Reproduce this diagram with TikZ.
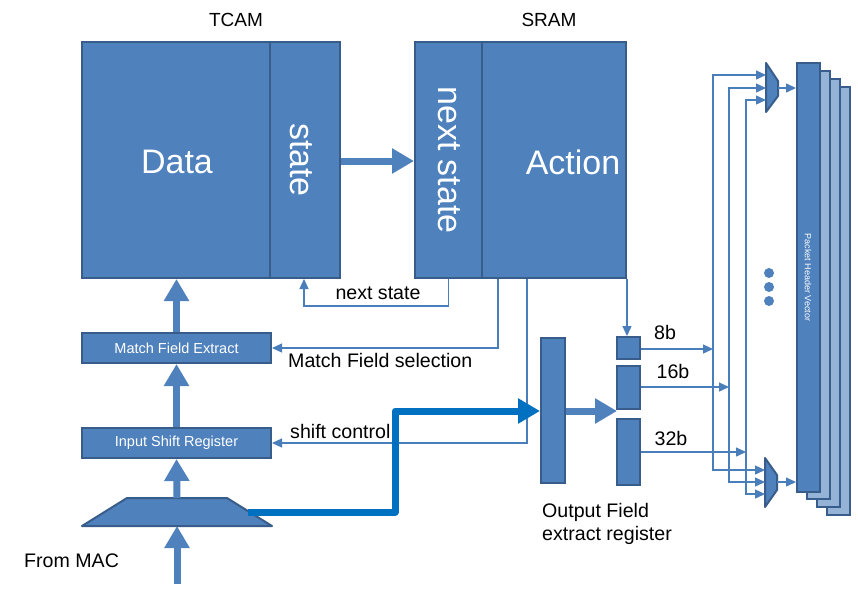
\documentclass[tikz,border=0pt]{standalone}
\usepackage{fontspec}
\setmainfont{Liberation Sans}
\usetikzlibrary{arrows.meta}
\definecolor{boxfill}{HTML}{4F81BD}
\definecolor{boxline}{HTML}{385D8A}
\definecolor{sigcol}{HTML}{4A7EBB}
\definecolor{darkblue}{HTML}{0070C0}
\definecolor{layerfill}{HTML}{95B3D7}
\begin{document}
\begin{tikzpicture}[x=1pt,y=-1pt,
  blk/.style={draw=boxline, fill=boxfill, line width=2pt, inner sep=0pt, text=white},
  layer/.style={draw=boxline, fill=layerfill, line width=2pt, inner sep=0pt},
  sig/.style={draw=sigcol, line width=1.3pt, -{Triangle[width=9pt,length=10pt]}},
  bigarrow/.style={draw=boxfill, line width=7pt, -{Triangle[width=24pt,length=22pt]}},
  darkarrow/.style={draw=darkblue, line width=7pt, line join=round, -{Triangle[width=24pt,length=22pt]}},
  lbl/.style={font=\fontsize{19.6}{23}\selectfont, inner sep=0pt},
  hdr/.style={font=\fontsize{19}{22}\selectfont, inner sep=0pt},
  bigtxt/.style={font=\fontsize{34}{40}\selectfont, text=white, inner sep=0pt},
  smalltxt/.style={font=\fontsize{14.5}{17}\selectfont},
  mux/.style={draw=boxline, fill=boxfill, line width=2pt, line join=round}
]
\useasboundingbox[fill=white] (0,0) rectangle (858,590);

% headers
\node[hdr] (tcamlbl) at (236,20) {TCAM};
\node[hdr] (sramlbl) at (549,20) {SRAM};

% TCAM
\node[blk, minimum width=188pt, minimum height=236pt] (data) at (176,160) {};
\node[blk, minimum width=70pt, minimum height=236pt] (st) at (305,160) {};
\node[bigtxt] at (177,162) {Data};
\node[bigtxt, rotate=-90] at (301,160) {state};

% SRAM
\node[blk, minimum width=67pt, minimum height=236pt] (ns) at (448.5,160) {};
\node[blk, minimum width=144pt, minimum height=236pt] (act) at (554,160) {};
\node[bigtxt, rotate=-90] at (449,160) {next state};
\node[bigtxt] at (573,162) {Action};

% state -> next state
\draw[bigarrow] (st.east |- 0,161) -- (ns.west |- 0,161);

% left column
\node[blk, minimum width=189pt, minimum height=30pt, smalltxt] (mfe) at (176.5,348) {Match Field Extract};
\node[blk, minimum width=189pt, minimum height=30pt, smalltxt] (isr) at (176.5,443) {Input Shift Register};
\path[draw=boxline, fill=boxfill, line width=2pt, line join=round]
  (82,526) -- (127,498) -- (227,498) -- (272,526) -- cycle;
\coordinate (mac) at (177,584);
\coordinate (traptop) at (177,498);
\coordinate (trapbot) at (177,526);
\coordinate (trapout) at (248,512);

\draw[bigarrow] (mac) -- (trapbot);
\draw[bigarrow] (traptop) -- (isr.south);
\draw[bigarrow] (isr.north) -- (mfe.south);
\draw[bigarrow] (mfe.north) -- (data.south -| mfe.north);

\node[lbl, anchor=west] (from) at (24,561) {From MAC};

% feedback lines
\draw[sig] (ns.south) |- (304,306) -- (st.south -| 304,0);
\node[lbl] at (378,293) {next state};
\draw[sig] (act.south -| 498,0) |- (mfe.east);
\node[lbl, anchor=west] at (288,360) {Match Field selection};
\draw[sig] (act.south -| 527,0) |- (isr.east);
\node[lbl, anchor=west] at (290,431) {shift control};

% output field register
\node[blk, minimum width=24pt, minimum height=145pt] (ofr) at (553,410.5) {};
\node[lbl, anchor=north west, align=left] at (542,503) {Output Field\\extract register};

% dark blue path
\draw[darkarrow] (trapout) -- (395,512) -- (395,411) -- (ofr.west |- 0,411);

% small registers
\node[blk, minimum width=23pt, minimum height=22pt] (r8) at (628.5,348) {};
\node[blk, minimum width=23pt, minimum height=43pt] (r16) at (628.5,387.5) {};
\node[blk, minimum width=23pt, minimum height=66pt] (r32) at (628.5,452) {};
\draw[bigarrow] (ofr.east |- 0,411) -- (617,411);
\draw[sig] (act.south -| 627,0) -- (r8.north -| 627,0);

\node[lbl] at (665,332) {8b};
\node[lbl] at (673,371) {16b};
\node[lbl] at (671,438) {32b};

\coordinate (j8) at (713,349);
\coordinate (j16) at (729,387);
\coordinate (j32) at (746,452);
\draw[sig] (r8.east |- j8) -- (j8);
\draw[sig] (r16.east |- j16) -- (j16);
\draw[sig] (r32.east |- j32) -- (j32);

% muxes
\path[mux] (766,63) -- (778,81) -- (778,96) -- (766,112) -- cycle;
\path[mux] (765,458) -- (777,475) -- (777,490) -- (765,507) -- cycle;
\coordinate (m1o) at (778,88);
\coordinate (m2o) at (777,482);

\draw[sig] (j8) |- (766,75);
\draw[sig] (j16) |- (766,88);
\draw[sig] (j32) |- (766,100);
\draw[sig] (j8) |- (765,470);
\draw[sig] (j16) |- (765,482);
\draw[sig] (j32) |- (765,494);

% packet header vector
\node[layer, minimum width=23pt, minimum height=428pt] (l4) at (838.5,301) {};
\node[layer, minimum width=23pt, minimum height=428pt] (l3) at (828.5,293) {};
\node[layer, minimum width=23pt, minimum height=428pt] (l2) at (818.5,285) {};
\node[blk, minimum width=23pt, minimum height=429pt] (phv) at (808.5,277.5) {};
\node[rotate=-90, text=white, font=\fontsize{9}{10}\selectfont, inner sep=0pt] at (808,277.5) {Packet Header Vector};

\draw[sig] (m1o) -- (phv.west |- m1o);
\draw[sig] (m2o) -- (phv.west |- m2o);

% dots
\fill[boxfill] (769,273) circle (5pt) (769,287) circle (5pt) (769,301) circle (5pt);
\end{tikzpicture}
\end{document}
